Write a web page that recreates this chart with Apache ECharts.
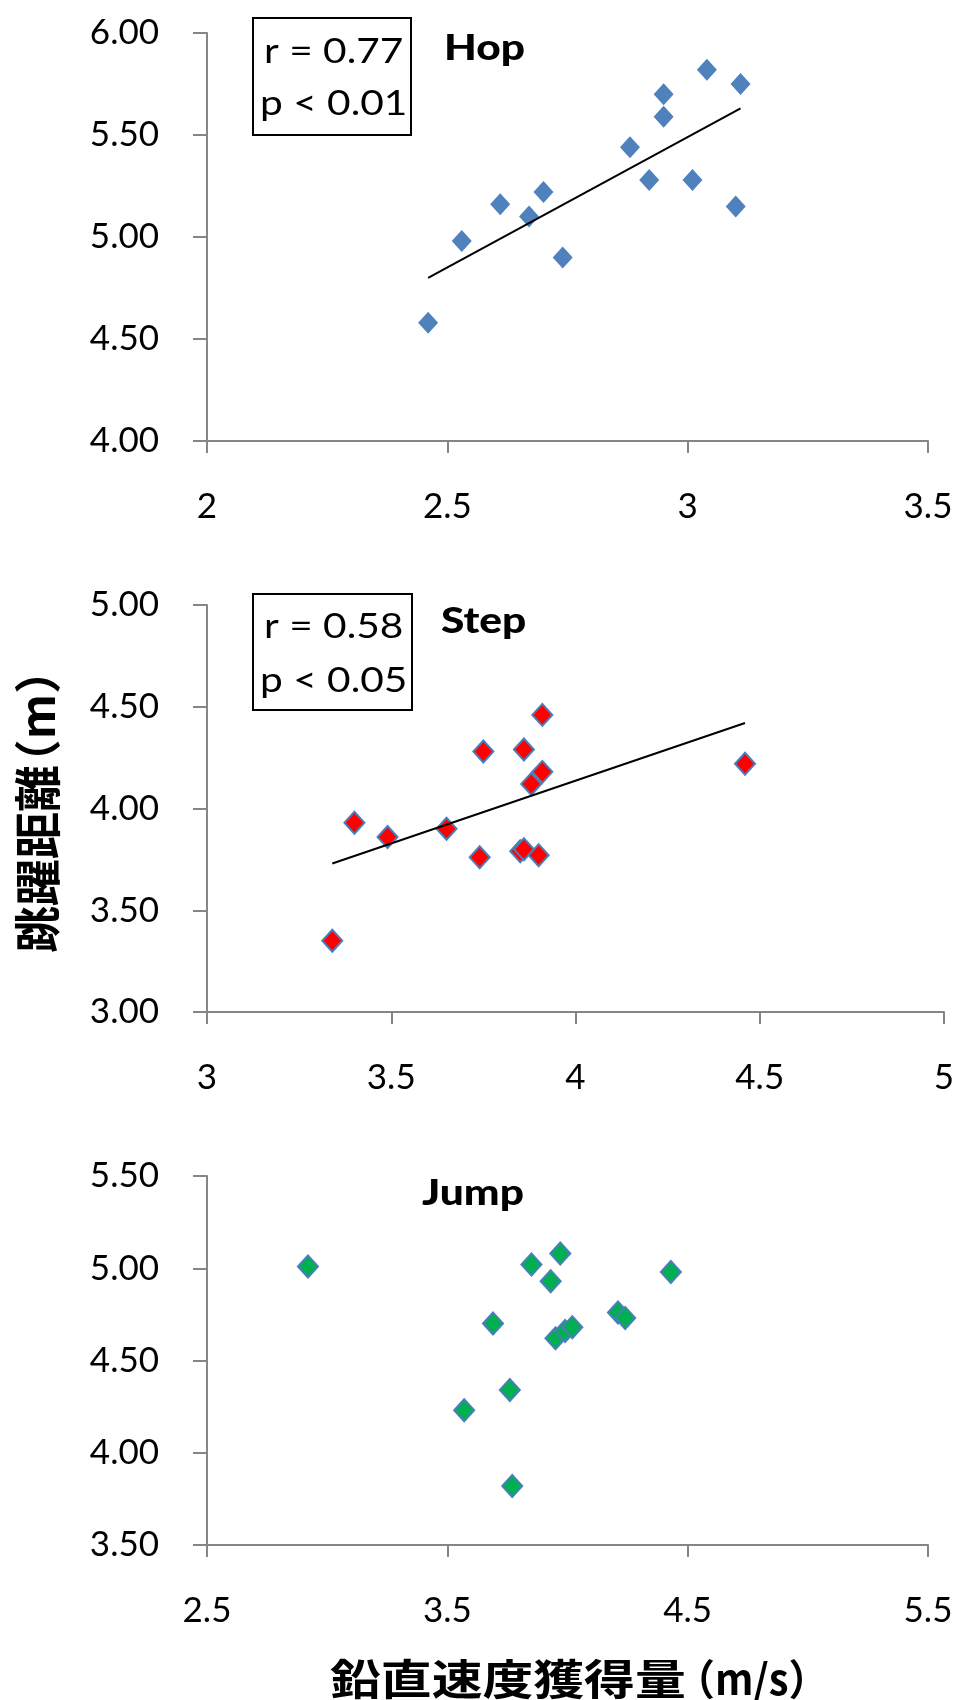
<!DOCTYPE html>
<html>
<head>
<meta charset="utf-8">
<script src="https://cdn.jsdelivr.net/npm/echarts@6/dist/echarts.min.js"></script>
<style>
  html, body { margin: 0; padding: 0; background: #fff; }
  #chart { width: 960px; height: 1700px; }
</style>
</head>
<body>
<div id="chart"></div>
<script>
// Hop phase: vertical velocity gain (m/s) vs. jump distance (m)
const hopSpeed    = [2.46, 2.53, 2.61, 2.67, 2.70, 2.74, 2.88, 2.92, 2.95, 2.95, 3.01, 3.04, 3.10, 3.11];
const hopDistance = [4.58, 4.98, 5.16, 5.10, 5.22, 4.90, 5.44, 5.28, 5.70, 5.59, 5.28, 5.82, 5.15, 5.75];
const hopTrend    = [[2.46, 4.80], [3.11, 5.63]];

// Step phase
const stepSpeed    = [3.34, 3.40, 3.49, 3.65, 3.74, 3.75, 3.85, 3.86, 3.86, 3.88, 3.90, 3.91, 3.91, 4.46];
const stepDistance = [3.35, 3.93, 3.86, 3.90, 3.76, 4.28, 3.79, 3.80, 4.29, 4.12, 3.77, 4.18, 4.46, 4.22];
const stepTrend    = [[3.34, 3.73], [4.46, 4.42]];

// Jump phase
const jumpSpeed    = [2.92, 3.57, 3.69, 3.76, 3.77, 3.85, 3.93, 3.95, 3.97, 3.99, 4.02, 4.21, 4.24, 4.43];
const jumpDistance = [5.01, 4.23, 4.70, 4.34, 3.82, 5.02, 4.93, 4.62, 5.08, 4.66, 4.68, 4.76, 4.73, 4.98];

// Axis ranges and tick labels
const hopXTicks  = [2, 2.5, 3, 3.5];
const hopYTicks  = [4.0, 4.5, 5.0, 5.5, 6.0];
const stepXTicks = [3, 3.5, 4, 4.5, 5];
const stepYTicks = [3.0, 3.5, 4.0, 4.5, 5.0];
const jumpXTicks = [2.5, 3.5, 4.5, 5.5];
const jumpYTicks = [3.5, 4.0, 4.5, 5.0, 5.5];

// Statistics and labels
const panelNames = ['Hop', 'Step', 'Jump'];
const hopStats   = ['r = 0.77', 'p < 0.01'];
const stepStats  = ['r = 0.58', 'p < 0.05'];
const yTitleParts = ['跳躍距離', '（m）'];
const xTitleParts = ['鉛直速度獲得量', '（m/s）'];

const LATIN = 'Lato, "Noto Sans", sans-serif';
const CJK = '"Noto Sans CJK JP", "Noto Sans CJK SC", sans-serif';
const AXIS_GREY = '#868686';
const MARK_BLUE = '#4A7EBB';
const WIDE = 1.18;   // horizontal stretch applied to annotation text

const pairs = (xs, ys) => xs.map((x, i) => [x, ys[i]]);

function xAxisFor(gridIndex, ticks, custom) {
  const ax = {
    type: 'value', gridIndex,
    min: ticks[0], max: ticks[ticks.length - 1],
    axisLine: { show: true, onZero: false, lineStyle: { color: AXIS_GREY, width: 2 } },
    axisTick: { show: true, length: 12, lineStyle: { color: AXIS_GREY, width: 2 } },
    axisLabel: { color: '#000', fontFamily: LATIN, fontSize: 35, margin: 48,
                 formatter: v => String(v) },
    splitLine: { show: false }
  };
  if (custom) {
    ax.axisTick.customValues = ticks;
    ax.axisLabel.customValues = ticks;
  } else {
    ax.interval = ticks[1] - ticks[0];
  }
  return ax;
}

function yAxisFor(gridIndex, ticks) {
  return {
    type: 'value', gridIndex,
    min: ticks[0], max: ticks[ticks.length - 1], interval: ticks[1] - ticks[0],
    axisLine: { show: true, onZero: false, lineStyle: { color: AXIS_GREY, width: 2 } },
    axisTick: { show: true, length: 14, lineStyle: { color: AXIS_GREY, width: 2 } },
    axisLabel: { color: '#000', fontFamily: LATIN, fontSize: 35, margin: 48,
                 formatter: v => v.toFixed(2) },
    splitLine: { show: false }
  };
}

function scatter(idx, data, fill, border) {
  return {
    type: 'scatter', xAxisIndex: idx, yAxisIndex: idx,
    data, symbol: 'diamond', symbolSize: [20, 22],
    itemStyle: { color: fill, borderColor: border || fill, borderWidth: border ? 2 : 0, opacity: 1 },
    z: 3
  };
}

function trend(idx, data) {
  return {
    type: 'line', xAxisIndex: idx, yAxisIndex: idx, data,
    symbol: 'none', silent: true,
    lineStyle: { color: '#000', width: 2 }, z: 4
  };
}

function statBox(left, top, width, height, lines, y1, y2) {
  return [
    { type: 'rect', shape: { x: left, y: top, width, height },
      style: { fill: '#fff', stroke: '#000', lineWidth: 2 }, z: 10 },
    { type: 'text', x: left + 11, y: y1, scaleX: 1.16, z: 11,
      style: { text: lines[0], font: '35px ' + LATIN, fill: '#000', verticalAlign: 'middle' } },
    { type: 'text', x: left + 7, y: y2, scaleX: 1.16, z: 11,
      style: { text: lines[1], font: '35px ' + LATIN, fill: '#000', verticalAlign: 'middle' } }
  ];
}

function panelTitle(text, x, y) {
  return { type: 'text', x, y, scaleX: WIDE, z: 11,
    style: { text, font: '900 36px ' + LATIN, fill: '#000', verticalAlign: 'middle' } };
}

// Axis titles are drawn in two runs so the bracketed unit sits close to the word
function xAxisTitle(parts, size, x, y, unitX) {
  const font = 'bold ' + size + 'px ' + CJK;
  return [
    { type: 'text', x, y, scaleX: 1.21, z: 11,
      style: { text: parts[0], font, fill: '#000', align: 'left', verticalAlign: 'middle' } },
    { type: 'text', x: unitX, y, scaleX: 0.95, z: 11,
      style: { text: parts[1], font, fill: '#000', align: 'left', verticalAlign: 'middle' } }
  ];
}

function yAxisTitle(parts, size, x, y) {
  const font = 'bold ' + size + 'px ' + CJK;
  return {
    type: 'group', x, y, rotation: Math.PI / 2, z: 11,
    children: [
      { type: 'text', x: 0, y: 0,
        style: { text: parts[0], font, fill: '#000', align: 'left', verticalAlign: 'middle' } },
      { type: 'text', x: parts[0].length * size - 0.45 * size, y: 0,
        style: { text: parts[1], font, fill: '#000', align: 'left', verticalAlign: 'middle' } }
    ]
  };
}

const chart = echarts.init(document.getElementById('chart'), null, { renderer: 'canvas' });

chart.setOption({
  backgroundColor: '#fff',
  animation: false,
  grid: [
    { left: 207, top: 33,   width: 721, height: 408 },
    { left: 207, top: 605,  width: 737, height: 407 },
    { left: 207, top: 1176, width: 721, height: 369 }
  ],
  xAxis: [
    xAxisFor(0, hopXTicks, false),
    xAxisFor(1, stepXTicks, false),
    xAxisFor(2, jumpXTicks, true)
  ],
  yAxis: [
    yAxisFor(0, hopYTicks),
    yAxisFor(1, stepYTicks),
    yAxisFor(2, jumpYTicks)
  ],
  series: [
    scatter(0, pairs(hopSpeed, hopDistance), '#4F81BD'),
    trend(0, hopTrend),
    scatter(1, pairs(stepSpeed, stepDistance), '#FF0000', MARK_BLUE),
    trend(1, stepTrend),
    scatter(2, pairs(jumpSpeed, jumpDistance), '#00B050', MARK_BLUE)
  ],
  graphic: [
    ...statBox(253, 18, 158, 117, hopStats, 52, 104),
    ...statBox(253, 594, 159, 116, stepStats, 627, 681),
    panelTitle(panelNames[0], 444, 48),
    panelTitle(panelNames[1], 441, 621),
    panelTitle(panelNames[2], 422, 1193),
    yAxisTitle(yTitleParts, 47, 37, 953),
    ...xAxisTitle(xTitleParts, 42, 330, 1679, 675)
  ]
});
</script>
</body>
</html>
